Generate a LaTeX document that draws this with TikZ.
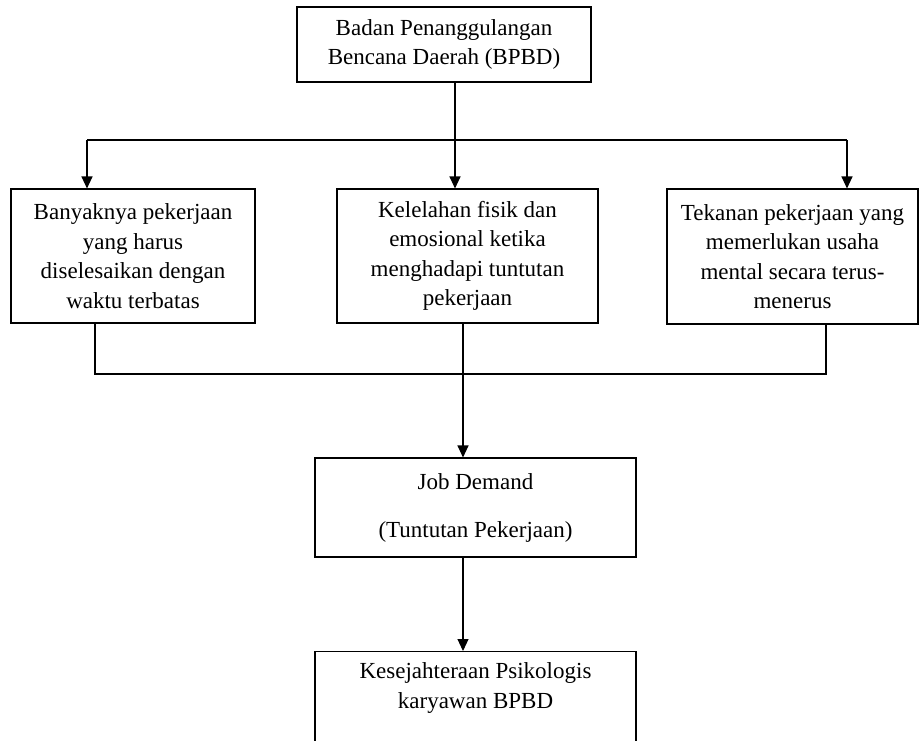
\documentclass[tikz,border=0pt]{standalone}
\usepackage{fontspec}
\setmainfont{Liberation Serif}
\usetikzlibrary{shapes,arrows.meta}
\tikzstyle{block} = [rectangle, draw, align=center, inner sep=0pt,
    font=\fontsize{23}{29.5}\selectfont]
\tikzstyle{line} = [draw, -{Triangle[length=12pt, width=11pt]}]

\begin{document}
\begin{tikzpicture}[x=1pt, y=1pt, line width=1.1pt]
  \useasboundingbox (0,0) rectangle (919,-740);
  \clip (0,0) rectangle (919,-740);
  \node [block, minimum width=294pt, minimum height=75pt] (BPBD) at (444,-44.5)
    {Badan Penanggulangan\\Bencana Daerah (BPBD)};
  %
  \node [block, minimum width=244pt, minimum height=134pt] (Banyak) at (133,-256)
    {Banyaknya pekerjaan\\yang harus\\diselesaikan dengan\\waktu terbatas};
  \node [block, minimum width=261pt, minimum height=134pt] (Lelah) at (467.5,-256)
    {Kelelahan fisik dan\\emosional ketika\\menghadapi tuntutan\\pekerjaan};
  \node [block, minimum width=251pt, minimum height=135pt] (Tekanan) at (792.5,-256.5)
    {Tekanan pekerjaan yang\\memerlukan usaha\\mental secara terus-\\menerus};
  %
  \node [block, minimum width=321pt, minimum height=99pt] (Job) at (475.5,-507.5)
    {Job Demand\\[18.5pt](Tuntutan Pekerjaan)};
  \node [block, minimum width=321pt, minimum height=130pt, anchor=north,
    label={[anchor=north, yshift=-11pt, inner sep=0pt,
      font=\fontsize{23}{29.5}\selectfont, align=center]north:Kesejahteraan Psikologis\\karyawan BPBD}]
    (Sejahtera) at (475.5,-651) {};
  %
  \coordinate (Bagi) at (455,-140);
  \coordinate (BagiKiri) at (87,-140);
  \coordinate (BagiKanan) at (847,-140);
  \coordinate (Gabung) at (463,-374);
  \coordinate (GabungKiri) at (95,-374);
  \coordinate (GabungKanan) at (826,-374);
  %
  \draw (BPBD.south -| Bagi) -- (Bagi);
  \draw (BagiKiri) -- (BagiKanan);
  \path [line] (BagiKiri) -- (BagiKiri |- Banyak.north);
  \path [line] (Bagi) -- (Bagi |- Lelah.north);
  \path [line] (BagiKanan) -- (BagiKanan |- Tekanan.north);
  %
  \draw (GabungKiri |- Banyak.south) -- (GabungKiri) -- (GabungKanan)
    -- (GabungKanan |- Tekanan.south);
  \draw (Gabung |- Lelah.south) -- (Gabung);
  \path [line] (Gabung) -- (Gabung |- Job.north);
  \path [line] (Gabung |- Job.south) -- (Gabung |- Sejahtera.north);
\end{tikzpicture}
\end{document}
